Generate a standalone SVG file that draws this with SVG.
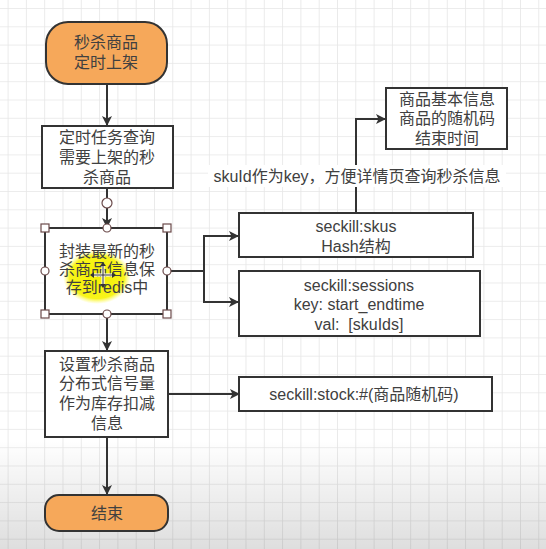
<svg xmlns="http://www.w3.org/2000/svg" width="546" height="549" viewBox="0 0 546 549">
<defs>
<pattern id="grid" x="7.6" y="8" width="18.3" height="18.3" patternUnits="userSpaceOnUse">
<path d="M0 0H18.3M0 0V18.3" fill="none" stroke="#e6e6e6" stroke-width="1.6"/>
</pattern>
<linearGradient id="shade" x1="0" y1="0" x2="0" y2="1">
<stop offset="0" stop-color="#000" stop-opacity="0"/>
<stop offset="1" stop-color="#000" stop-opacity="0.13"/>
</linearGradient>
<radialGradient id="hl" cx="0.5" cy="0.5" r="0.5">
<stop offset="0" stop-color="#f4f000"/>
<stop offset="0.8" stop-color="#f8f41a"/>
<stop offset="1" stop-color="#fffb6a" stop-opacity="0"/>
</radialGradient>
<marker id="arr" viewBox="0 0 10 10" refX="10" refY="5" markerWidth="10" markerHeight="10" markerUnits="userSpaceOnUse" orient="auto">
<path d="M0 0L10 5L0 10L2.5 5Z" fill="#333"/>
</marker>
</defs>
<style>
.box{fill:#fff;stroke:#333;stroke-width:2}
.term{fill:#f6a85a;stroke:#333;stroke-width:2}
.t{font-family:"Liberation Sans","Noto Sans CJK SC",sans-serif;font-size:16px;fill:#404040;text-anchor:middle}
.c{fill:none;stroke:#333;stroke-width:2;marker-end:url(#arr)}
.h{fill:#fff;stroke:#6b4a4a;stroke-width:1.2}
</style>
<rect width="546" height="549" fill="#fff"/>
<rect width="546" height="549" fill="url(#grid)"/>
<rect y="440" width="546" height="109" fill="url(#shade)"/>

<g id="connectors">
<path class="c" d="M107 84V126"/>
<path class="c" d="M107 188V228"/>
<path class="c" d="M107 314V351"/>
<path class="c" d="M107 437V495"/>
<path class="c" d="M167 271H204V236H239"/>
<path class="c" d="M204 271V302H239"/>
<path class="c" d="M356 213V119H386"/>
<path class="c" d="M168 394H240"/>
<rect x="208" y="165" width="298" height="22" fill="#fff"/>
<text class="t" x="357" y="182">skuId作为key，方便详情页查询秒杀信息</text>
</g>

<g id="start">
<rect class="term" x="46" y="22" width="121" height="62" rx="22"/>
<text class="t" x="106" y="48">秒杀商品</text>
<text class="t" x="106" y="68">定时上架</text>
</g>

<g id="query">
<rect class="box" x="42" y="126" width="131" height="62"/>
<text class="t" x="107" y="143">定时任务查询</text>
<text class="t" x="107" y="163">需要上架的秒</text>
<text class="t" x="107" y="183">杀商品</text>
</g>

<g id="pack">
<rect class="box" x="45" y="228" width="122" height="86"/>
<ellipse cx="97" cy="277" rx="34" ry="27" fill="url(#hl)"/>
<text class="t" x="107" y="257">封装最新的秒</text>
<text class="t" x="107" y="275">杀商品信息保</text>
<text class="t" x="107" y="293">存到redis中</text>
<path d="M103 264V286M92 275H114" stroke="#fff" stroke-width="3"/>
<path d="M103 264V286M92 275H114" stroke="#333" stroke-width="1"/>
<path d="M103 262l-3 4h6zM103 288l-3-4h6zM90 275l4-3v6zM116 275l-4-3v6z" fill="#333"/>
<rect class="h" x="41" y="224" width="8" height="8"/>
<rect class="h" x="163" y="224" width="8" height="8"/>
<rect class="h" x="41" y="310" width="8" height="8"/>
<rect class="h" x="163" y="310" width="8" height="8"/>
<circle class="h" cx="107" cy="228" r="4"/>
<circle class="h" cx="45" cy="271" r="4"/>
<circle class="h" cx="167" cy="271" r="4"/>
<circle class="h" cx="107" cy="314" r="4"/>
<circle class="h" cx="107" cy="203" r="5"/>
</g>

<g id="semaphore">
<rect class="box" x="45" y="351" width="123" height="86"/>
<text class="t" x="107" y="370">设置秒杀商品</text>
<text class="t" x="107" y="389">分布式信号量</text>
<text class="t" x="107" y="409">作为库存扣减</text>
<text class="t" x="107" y="429">信息</text>
</g>

<g id="end">
<rect class="term" x="45" y="495" width="123" height="36" rx="14"/>
<text class="t" x="107" y="519">结束</text>
</g>

<g id="info">
<rect class="box" x="386" y="88" width="121" height="61"/>
<text class="t" x="447" y="105">商品基本信息</text>
<text class="t" x="447" y="124">商品的随机码</text>
<text class="t" x="447" y="144">结束时间</text>
</g>

<g id="skus">
<rect class="box" x="239" y="213" width="234" height="44"/>
<text class="t" x="356" y="232">seckill:skus</text>
<text class="t" x="356" y="252">Hash结构</text>
</g>

<g id="sessions">
<rect class="box" x="239" y="271" width="241" height="65"/>
<text class="t" x="359" y="291">seckill:sessions</text>
<text class="t" x="359" y="310">key: start_endtime</text>
<text class="t" x="359" y="330">val:&#160; [skuIds]</text>
</g>

<g id="stock">
<rect class="box" x="239" y="377" width="253" height="34"/>
<text class="t" x="364" y="400">seckill:stock:#(商品随机码)</text>
</g>
</svg>
